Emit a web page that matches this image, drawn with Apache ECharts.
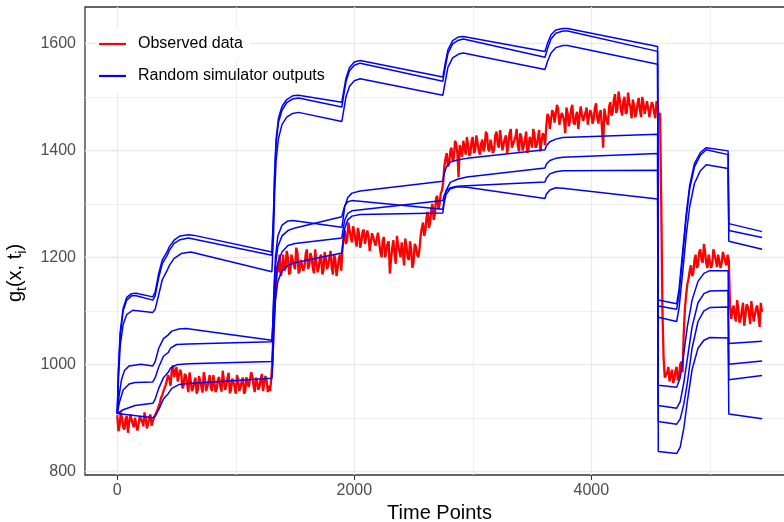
<!DOCTYPE html>
<html><head><meta charset="utf-8">
<script src="https://cdn.jsdelivr.net/npm/echarts@6/dist/echarts.min.js"></script>
<style>html,body{margin:0;padding:0;background:#fff}#c{width:784px;height:522px}</style>
</head><body><div id="c"></div>
<script>
// ---------- data ----------
const xTickLabels = [0, 2000, 4000];
const xMinorGrid = [1000, 3000, 5000];
const yTickLabels = [800, 1000, 1200, 1400, 1600];
const yMinorGrid = [900, 1100, 1300, 1500];

// observed data sampled every 20 time points starting at t = 0
const obsStep = 20;
const observed = [
  905, 885, 900, 878, 903, 890, 908, 882, 897, 887,
  905, 884, 899, 888, 906, 893, 902, 915, 928, 942,
  952, 965, 972, 988, 976, 995, 970, 984, 960, 978,
  948, 970, 955, 975, 952, 968, 947, 972, 958, 980,
  950, 966, 955, 976, 949, 970, 960, 984, 952, 967,
  945, 972, 957, 975, 950, 963, 955, 978, 948, 969,
  958, 982, 951, 971, 960, 975, 1075, 1150, 1172, 1165,
  1205, 1180, 1200, 1172, 1195, 1178, 1210, 1176, 1198, 1182,
  1215, 1185, 1200, 1170, 1193, 1180, 1205, 1175, 1198, 1185,
  1212, 1168, 1196, 1180, 1205, 1215, 1250, 1232, 1262, 1228,
  1248, 1220, 1245, 1230, 1252, 1225, 1240, 1215, 1238, 1222,
  1246, 1210, 1232, 1200, 1225, 1170, 1218, 1205, 1240, 1212,
  1228, 1185, 1222, 1195, 1215, 1190, 1220, 1200, 1240, 1265,
  1250, 1285, 1265, 1300, 1280, 1315, 1300, 1325, 1370, 1395,
  1375, 1405, 1385, 1412, 1350, 1400, 1418, 1392, 1410, 1395,
  1425, 1400, 1415, 1392, 1420, 1405, 1430, 1398, 1418, 1402,
  1435, 1405, 1420, 1398, 1428, 1410, 1440, 1402, 1425, 1408,
  1432, 1400, 1420, 1395, 1425, 1405, 1430, 1410, 1438, 1400,
  1428, 1445, 1462, 1440, 1470, 1450, 1478, 1445, 1465, 1432,
  1470, 1455, 1485, 1448, 1472, 1440, 1468, 1452, 1480, 1445,
  1470, 1458, 1488, 1450, 1475, 1405, 1465, 1448, 1490, 1470,
  1505, 1478, 1495, 1465, 1500, 1472, 1490, 1460, 1485, 1470,
  1498, 1462, 1488, 1470, 1495, 1465, 1485, 1460, 1480, 1470,
  1100, 975, 985, 968, 990, 972, 995, 975, 1005, 1060,
  1130, 1160, 1185, 1170, 1205, 1185, 1215, 1190, 1210, 1180,
  1205, 1188, 1215, 1182, 1208, 1190, 1212, 1185, 1195, 1085,
  1110, 1080, 1105, 1085, 1115, 1090, 1108, 1075, 1100, 1082,
  1110, 1070, 1098
];
// observed data at the in-between time points t = 10, 30, 50, ...
const observedMid = [
  875, 910, 883, 898, 872, 906, 889, 900, 876, 903,
  893, 910, 880, 902, 885, 900, 910, 922, 938, 950,
  962, 980, 960, 998, 985, 968, 990, 955, 982, 962,
  985, 950, 967, 945, 978, 958, 985, 950, 968, 955,
  980, 948, 972, 958, 988, 952, 975, 946, 973, 958,
  980, 950, 968, 945, 976, 958, 985, 960, 975, 952,
  972, 950, 978, 948, 950, 1010, 1120, 1185, 1205, 1175,
  1175, 1212, 1168, 1205, 1185, 1218, 1170, 1195, 1175, 1206,
  1178, 1208, 1180, 1215, 1172, 1200, 1168, 1210, 1178, 1200,
  1180, 1205, 1165, 1198, 1175, 1235, 1225, 1265, 1238, 1258,
  1232, 1255, 1218, 1248, 1225, 1250, 1212, 1245, 1228, 1235,
  1228, 1200, 1238, 1212, 1230, 1195, 1232, 1188, 1222, 1200,
  1210, 1235, 1200, 1230, 1180, 1225, 1205, 1215, 1255, 1240,
  1275, 1255, 1290, 1270, 1310, 1290, 1320, 1340, 1385, 1370,
  1398, 1380, 1418, 1395, 1410, 1388, 1405, 1425, 1390, 1418,
  1395, 1428, 1400, 1412, 1398, 1435, 1402, 1420, 1395, 1428,
  1412, 1438, 1400, 1422, 1395, 1432, 1405, 1418, 1440, 1398,
  1425, 1408, 1435, 1402, 1418, 1440, 1405, 1425, 1398, 1432,
  1410, 1468, 1440, 1475, 1452, 1485, 1448, 1470, 1455, 1480,
  1445, 1478, 1452, 1465, 1440, 1482, 1455, 1470, 1448, 1475,
  1450, 1480, 1460, 1470, 1440, 1478, 1455, 1482, 1465, 1495,
  1470, 1510, 1475, 1492, 1468, 1508, 1480, 1495, 1462, 1488,
  1475, 1500, 1468, 1492, 1462, 1490, 1470, 1492, 1465, 1300,
  1010, 972, 995, 980, 965, 988, 970, 1000, 985, 1105,
  1150, 1175, 1165, 1195, 1180, 1210, 1195, 1225, 1188, 1205,
  1180, 1215, 1195, 1205, 1180, 1210, 1192, 1205, 1110, 1100,
  1090, 1120, 1078, 1100, 1072, 1112, 1095, 1118, 1080, 1105,
  1090, 1115
];

// simulator outputs: [time, value]
const simU1 = [[0,908],[10,990],[25,1060],[50,1105],[80,1125],[120,1132],[160,1133],[300,1126],
  [320,1135],[350,1170],[380,1195],[420,1210],[440,1220],[480,1232],[530,1240],[600,1242],[650,1241],[1305,1210],
  [1318,1280],[1328,1360],[1340,1420],[1360,1460],[1390,1482],[1430,1495],[1480,1502],[1530,1503],[1895,1490],
  [1910,1510],[1930,1535],[1960,1555],[2000,1565],[2050,1568],[2747,1537],
  [2765,1560],[2790,1588],[2830,1605],[2880,1612],[2920,1613],[3609,1585],
  [3630,1600],[3660,1616],[3700,1625],[3760,1628],[3800,1628],[4559,1594],
  [4565,1120],[4720,1113],[4740,1140],[4770,1210],[4800,1280],[4830,1335],[4870,1375],[4920,1396],[4970,1405],[5154,1399],
  [5160,1263],[5441,1248]];
const simU2 = [[0,908],[10,985],[25,1055],[50,1100],[80,1120],[120,1128],[160,1128],[300,1120],
  [320,1128],[350,1162],[380,1188],[420,1203],[440,1213],[480,1226],[530,1233],[600,1236],[1305,1204],
  [1318,1272],[1328,1352],[1340,1412],[1360,1452],[1390,1475],[1430,1489],[1480,1496],[1530,1498],[1895,1481],
  [1910,1502],[1930,1528],[1960,1549],[2000,1559],[2050,1563],[2747,1529],
  [2765,1552],[2790,1581],[2830,1599],[2880,1606],[2920,1608],[3609,1574],
  [3630,1590],[3660,1608],[3700,1619],[3760,1623],[3800,1623],[4559,1585],
  [4565,1109],[4720,1103],[4740,1130],[4770,1200],[4800,1272],[4830,1328],[4870,1369],[4920,1391],[4970,1401],[5154,1392],
  [5160,1250],[5441,1237]];
const simU3 = [[0,908],[10,970],[25,1035],[50,1075],[80,1093],[130,1101],[300,1097],
  [320,1103],[350,1130],[380,1158],[420,1175],[440,1185],[480,1198],[540,1207],[620,1210],[1305,1173],
  [1318,1238],[1328,1318],[1340,1380],[1360,1422],[1390,1448],[1430,1462],[1480,1469],[1530,1471],[1895,1454],
  [1910,1474],[1930,1500],[1960,1520],[2000,1530],[2050,1534],[2747,1503],
  [2765,1525],[2790,1555],[2830,1573],[2880,1580],[2920,1582],[3609,1551],
  [3630,1566],[3660,1582],[3700,1592],[3760,1596],[3800,1596],[4559,1561],
  [4565,1088],[4720,1080],[4740,1105],[4770,1170],[4800,1240],[4830,1295],[4870,1338],[4920,1362],[4970,1373],[5154,1366],
  [5160,1230],[5441,1215]];
const simL1 = [[0,908],[15,940],[35,970],[60,988],[100,997],[200,1000],[300,997],
  [320,1005],[350,1030],[390,1048],[430,1055],[460,1062],[520,1066],[580,1067],[1305,1045],
  [1312,1075],[1322,1140],[1335,1200],[1355,1240],[1390,1260],[1440,1268],[1480,1269],[1895,1256],
  [1905,1270],[1920,1295],[1945,1312],[1980,1320],[2050,1324],[2747,1342],
  [2757,1355],[2775,1368],[2810,1378],[2870,1382],[2950,1385],[3609,1401],
  [3620,1408],[3650,1416],[3700,1421],[3760,1424],[4559,1430],
  [4565,961],[4720,957],[4750,975],[4780,1020],[4810,1070],[4850,1120],[4900,1155],[4950,1170],[5000,1175],[5154,1175],
  [5160,1039],[5441,1043]];
const simL2 = [[0,908],[20,930],[50,952],[100,963],[150,966],[300,967],
  [320,975],[350,995],[390,1015],[430,1022],[450,1030],[500,1037],[600,1038],[1305,1042],
  [1312,1070],[1322,1130],[1335,1185],[1355,1220],[1390,1240],[1440,1250],[1500,1255],[1895,1276],
  [1905,1285],[1920,1297],[1945,1304],[1980,1306],[2747,1290],
  [2757,1305],[2775,1325],[2810,1340],[2870,1346],[2950,1350],[3609,1367],
  [3620,1374],[3650,1381],[3700,1385],[3760,1387],[4559,1394],
  [4565,923],[4720,918],[4750,930],[4780,965],[4810,1010],[4850,1070],[4900,1115],[4950,1132],[5000,1137],[5154,1138],
  [5160,1000],[5441,1006]];
const simL3 = [[0,908],[50,915],[150,923],[300,927],
  [320,935],[350,955],[390,975],[430,985],[450,993],[500,999],[600,1001],[1305,1005],
  [1312,1030],[1322,1090],[1335,1150],[1355,1190],[1390,1210],[1440,1222],[1500,1226],[1895,1236],
  [1905,1252],[1920,1270],[1945,1282],[1980,1287],[2747,1306],
  [2757,1315],[2775,1324],[2810,1330],[2870,1333],[2950,1334],[3609,1341],
  [3620,1348],[3650,1356],[3700,1360],[3760,1362],[4559,1363],
  [4565,893],[4720,888],[4750,898],[4780,925],[4810,965],[4850,1030],[4900,1080],[4950,1100],[5000,1106],[5154,1107],
  [5160,971],[5441,979]];
const simL4 = [[0,908],[300,900],
  [320,903],[350,915],[390,935],[430,945],[460,955],[520,962],[600,964],[1305,974],
  [1312,1000],[1322,1060],[1335,1120],[1355,1155],[1390,1175],[1440,1185],[1500,1190],[1895,1208],
  [1905,1228],[1920,1255],[1945,1270],[1980,1277],[2050,1280],[2747,1283],
  [2757,1300],[2775,1318],[2810,1328],[2870,1332],[2950,1331],[3609,1310],
  [3620,1318],[3650,1326],[3700,1330],[3760,1329],[4559,1309],
  [4565,837],[4720,833],[4750,845],[4780,880],[4810,930],[4850,990],[4900,1030],[4950,1045],[5000,1050],[5154,1049],
  [5160,907],[5441,898]];
const simLines = [simU1, simU2, simU3, simL1, simL2, simL3, simL4];

// ---------- chart ----------
const FONT = 'Liberation Sans, Arial, sans-serif';
const chart = echarts.init(document.getElementById('c'), null, {renderer: 'canvas'});
const obsPairs = [];
observed.forEach((v, i) => {
  obsPairs.push([i * obsStep, v]);
  if (i < observedMid.length) obsPairs.push([i * obsStep + obsStep / 2, observedMid[i]]);
});

const gridLines = [];
xTickLabels.forEach(v => gridLines.push({xAxis: v, lineStyle: {width: 1.3}}));
xMinorGrid.forEach(v => gridLines.push({xAxis: v, lineStyle: {width: 0.8}}));
yTickLabels.forEach(v => gridLines.push({yAxis: v, lineStyle: {width: 1.3}}));
yMinorGrid.forEach(v => gridLines.push({yAxis: v, lineStyle: {width: 0.8}}));

const series = [{
  type: 'line', data: [[0, 1000]], symbol: 'none', lineStyle: {opacity: 0}, z: 1, silent: true,
  markLine: {silent: true, z: 1, symbol: ['none', 'none'], label: {show: false},
    lineStyle: {color: '#EBEBEB', type: 'solid'}, data: gridLines, animation: false}
}, {
  name: 'Observed data', type: 'line', data: obsPairs, symbol: 'none', showSymbol: false,
  lineStyle: {color: '#FF0000', width: 2.3}, itemStyle: {color: '#FF0000'}, z: 2
}];
simLines.forEach(d => series.push({
  name: 'Random simulator outputs', type: 'line', data: d, symbol: 'none', showSymbol: false,
  lineStyle: {color: '#0000FF', width: 1.5}, itemStyle: {color: '#0000FF'}, z: 3
}));

chart.setOption({
  animation: false,
  backgroundColor: '#FFFFFF',
  grid: {left: 85, top: 7, right: -10, bottom: 47, show: true, backgroundColor: '#FFFFFF',
    borderColor: '#333333', borderWidth: 1.3, containLabel: false, outerBoundsMode: 'none'},
  graphic: [
    {type: 'rect', left: 97, top: 28, shape: {width: 153, height: 32}, style: {fill: '#FFFFFF'}, z: 3, silent: true},
    {type: 'rect', left: 97, top: 60, shape: {width: 32, height: 33}, style: {fill: '#FFFFFF'}, z: 3, silent: true}
  ],
  legend: {
    data: ['Observed data', 'Random simulator outputs'],
    icon: 'rect',
    orient: 'vertical', left: 99, top: 36, padding: 0, z: 5,
    itemWidth: 27, itemHeight: 2.2, itemGap: 16,
    itemStyle: {borderWidth: 0},
    textStyle: {fontFamily: FONT, fontSize: 16, color: '#000000', lineHeight: 16, padding: [0, 0, 0, 7]}
  },
  xAxis: {
    type: 'value', min: -272, max: 5710,
    name: 'Time Points', nameLocation: 'middle', nameGap: 28,
    nameTextStyle: {fontFamily: FONT, fontSize: 20, color: '#000000'},
    axisLine: {show: false},
    axisTick: {show: true, length: 5, customValues: xTickLabels, lineStyle: {color: '#333333', width: 1.1}},
    axisLabel: {customValues: xTickLabels, formatter: v => String(v), fontFamily: FONT, fontSize: 16, color: '#4D4D4D', margin: 8},
    splitLine: {show: false}
  },
  yAxis: {
    type: 'value', min: 793, max: 1668,
    name: '{m|g}{s|t}{m|(x, t}{s|i}{m|)}', nameLocation: 'middle', nameGap: 44, nameRotate: 90,
    nameTextStyle: {fontFamily: FONT, color: '#000000', padding: [0, 64, 0, 0],
      rich: {m: {fontFamily: FONT, fontSize: 20, lineHeight: 28, color: '#000000'},
             s: {fontFamily: FONT, fontSize: 14, lineHeight: 28, verticalAlign: 'bottom', color: '#000000'}}},
    axisLine: {show: false},
    axisTick: {show: true, length: 5, customValues: yTickLabels, lineStyle: {color: '#333333', width: 1.1}},
    axisLabel: {customValues: yTickLabels, formatter: v => String(v), fontFamily: FONT, fontSize: 16, color: '#4D4D4D', margin: 9},
    splitLine: {show: false}
  },
  series: series
});
</script></body></html>
